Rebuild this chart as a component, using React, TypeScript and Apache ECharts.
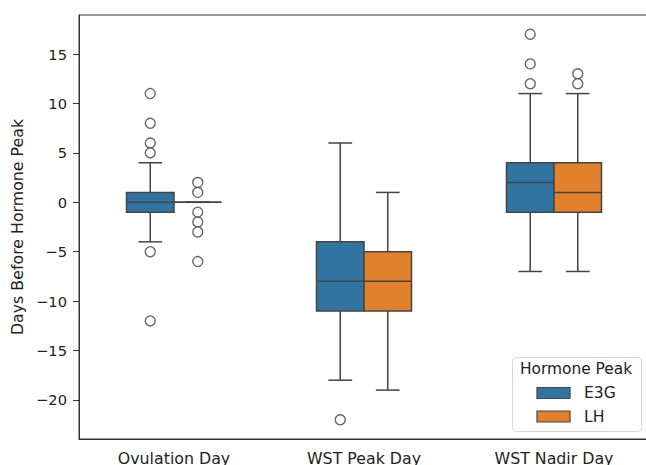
import React, { useEffect, useRef } from "react";
import * as echarts from "echarts";

const categories = ["Ovulation Day", "WST Peak Day", "WST Nadir Day"];
const hueNames = ["E3G", "LH"];
const hueColors = ["#3274a1", "#e1812c"];
// [lowWhisker, q1, median, q3, highWhisker]
const e3gStats = [
  [-4, -1, 0, 1, 4],
  [-18, -11, -8, -4, 6],
  [-7, -1, 2, 4, 11],
];
const lhStats = [
  [0, 0, 0, 0, 0],
  [-19, -11, -8, -5, 1],
  [-7, -1, 1, 4, 11],
];
const e3gOutliers = [[11, 8, 6, 5, -5, -12], [-22], [17, 14, 12]];
const lhOutliers = [[2, 1, -1, -2, -3, -6], [], [13, 12]];
const yTicks = [-20, -15, -10, -5, 0, 5, 10, 15];

const LINE = "#444444";
const HALF = 0.125;

function makeBoxSeries(name: string, stats: number[][], offset: number, color: string) {
  return {
    type: "custom",
    name,
    xAxisIndex: 1,
    yAxisIndex: 0,
    itemStyle: { color, borderColor: LINE },
    encode: { x: 0, y: [1, 2, 3, 4, 5] },
    data: stats.map((s, i) => [i, ...s]),
    renderItem: (params: any, api: any) => {
      const cx = api.value(0) + offset;
      const lo = api.value(1);
      const q1 = api.value(2);
      const med = api.value(3);
      const q3 = api.value(4);
      const hi = api.value(5);
      const tl = api.coord([cx - HALF, q3]);
      const br = api.coord([cx + HALF, q1]);
      const c = api.coord([cx, med]);
      const loP = api.coord([cx, lo]);
      const hiP = api.coord([cx, hi]);
      const capHalf = (br[0] - tl[0]) / 4;
      const ls = { stroke: LINE, lineWidth: 1.5 };
      return {
        type: "group",
        children: [
          { type: "line", shape: { x1: c[0], y1: tl[1], x2: c[0], y2: hiP[1] }, style: ls },
          { type: "line", shape: { x1: c[0], y1: br[1], x2: c[0], y2: loP[1] }, style: ls },
          { type: "line", shape: { x1: c[0] - capHalf, y1: hiP[1], x2: c[0] + capHalf, y2: hiP[1] }, style: ls },
          { type: "line", shape: { x1: c[0] - capHalf, y1: loP[1], x2: c[0] + capHalf, y2: loP[1] }, style: ls },
          {
            type: "rect",
            shape: { x: tl[0], y: tl[1], width: br[0] - tl[0], height: br[1] - tl[1] },
            style: { fill: color, stroke: LINE, lineWidth: 1.5 },
          },
          { type: "line", shape: { x1: tl[0], y1: c[1], x2: br[0], y2: c[1] }, style: ls },
        ],
      };
    },
  };
}

function makeOutlierSeries(name: string, outliers: number[][], offset: number) {
  const data: number[][] = [];
  outliers.forEach((arr, i) => arr.forEach((v) => data.push([i + offset, v])));
  return {
    type: "scatter",
    name,
    xAxisIndex: 1,
    yAxisIndex: 0,
    symbol: "circle",
    symbolSize: 10,
    clip: false,
    itemStyle: { color: "#ffffff", borderColor: LINE, borderWidth: 1.4 },
    data,
  };
}

export default function App() {
  const ref = useRef<HTMLDivElement>(null);
  useEffect(() => {
    document.documentElement.style.overflow = "hidden";
    document.body.style.overflow = "hidden";
    document.body.style.margin = "0";
    const chart = echarts.init(ref.current!, undefined, { renderer: "svg" });
    const font = "DejaVu Sans";
    const legendItems: any[] = [];
    hueNames.forEach((n, i) => {
      const cy = 393 + i * 23.5;
      legendItems.push({
        type: "rect",
        shape: { x: 537, y: cy - 5.5, width: 33, height: 11 },
        style: { fill: hueColors[i], stroke: LINE, lineWidth: 1.2 },
        z: 3,
      });
      legendItems.push({
        type: "text",
        x: 584,
        y: cy,
        style: {
          text: n,
          fontSize: 15.6,
          fill: "#222",
          fontFamily: font,
          verticalAlign: "middle",
          align: "left",
        },
        z: 3,
      });
    });
    chart.setOption({
      animation: false,
      textStyle: { fontFamily: font },
      grid: {
        left: 79,
        top: 15,
        width: 570,
        height: 424,
        containLabel: false,
        outerBoundsMode: "none",
        show: true,
        borderColor: "#333",
        borderWidth: 1,
        backgroundColor: "transparent",
      },
      xAxis: [
        {
          type: "category",
          data: categories,
          boundaryGap: true,
          axisLine: { onZero: false, lineStyle: { color: "#333", width: 1 } },
          axisTick: { alignWithLabel: true, length: 5, lineStyle: { color: "#333" } },
          axisLabel: { fontSize: 15.8, color: "#222", margin: 11, fontFamily: font },
          splitLine: { show: false },
        },
        {
          type: "value",
          min: -0.5,
          max: 2.5,
          show: false,
          axisLine: { show: false, onZero: false },
          axisTick: { show: false },
          axisLabel: { show: false },
          splitLine: { show: false },
        },
      ],
      yAxis: {
        type: "value",
        min: -23.95,
        max: 18.95,
        name: "Days Before Hormone Peak",
        nameLocation: "middle",
        nameGap: 53,
        nameTextStyle: { fontSize: 15.8, color: "#222", fontFamily: font },
        axisLine: { show: true, onZero: false, lineStyle: { color: "#333", width: 1 } },
        axisTick: { show: true, length: 6, customValues: yTicks, lineStyle: { color: "#333" } },
        axisLabel: {
          fontSize: 14.7,
          color: "#222",
          margin: 12,
          customValues: yTicks,
          fontFamily: font,
          formatter: (v: number) => (v < 0 ? "\u2212" + Math.abs(v) : String(v)),
        },
        splitLine: { show: false },
      },
      graphic: [
        {
          type: "rect",
          left: 512,
          top: 357,
          shape: { width: 129, height: 74, r: 4 },
          style: { fill: "rgba(255,255,255,0.85)", stroke: "#d6d6d6", lineWidth: 1 },
          z: 1,
        },
        {
          type: "text",
          left: 520,
          top: 361,
          style: { text: "Hormone Peak", fontSize: 15.4, fill: "#222", fontFamily: font },
          z: 2,
        },
        ...legendItems,
      ],
      series: [
        makeBoxSeries(hueNames[0], e3gStats, -HALF, hueColors[0]),
        makeBoxSeries(hueNames[1], lhStats, HALF, hueColors[1]),
        makeOutlierSeries("E3G outliers", e3gOutliers, -HALF),
        makeOutlierSeries("LH outliers", lhOutliers, HALF),
      ],
    });
    return () => chart.dispose();
  }, []);
  return (
    <div
      ref={ref}
      style={{
        position: "absolute",
        left: 0,
        top: 0,
        width: 646,
        height: 465,
        overflow: "hidden",
        background: "#fff",
      }}
    />
  );
}
